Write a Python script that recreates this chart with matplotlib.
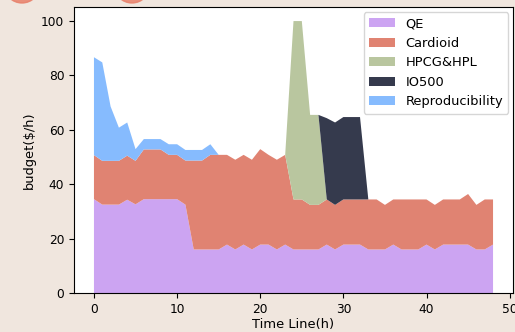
import matplotlib
matplotlib.use("Agg")
import matplotlib.pyplot as plt
from matplotlib.patches import Ellipse
import numpy as np

hours = np.arange(49)

qe = [34.5, 32.5, 32.5, 32.5, 34.3, 32.6, 34.5, 34.5, 34.5, 34.5,
      34.5, 32.5, 16, 16, 16, 16, 17.8, 16, 17.8, 16,
      17.8, 17.8, 16, 17.8, 16, 16, 16, 16, 17.8, 16,
      17.8, 17.8, 17.8, 16, 16, 16, 17.8, 16, 16, 16,
      17.8, 16, 17.8, 17.8, 17.8, 17.8, 16, 16, 17.8]
cardioid = [16.2, 16.1, 16.1, 16.1, 16.2, 16.0, 18.3, 18.3, 18.3, 16.3,
            16.3, 16.2, 32.7, 32.7, 34.8, 34.8, 33.0, 33.0, 33.0, 33.0,
            35.1, 33.0, 33.0, 33.0, 18.4, 18.4, 16.4, 16.4, 16.6, 16.4,
            16.6, 16.6, 16.6, 18.4, 18.4, 16.4, 16.6, 18.4, 18.4, 18.4,
            16.6, 16.4, 16.6, 16.6, 16.6, 18.6, 16.4, 18.4, 16.6]
hpcg = [0] * 24 + [65.6, 65.6, 33.1, 33.1] + [0] * 21
io500 = [0] * 28 + [29.9, 30.3, 30.3, 30.3, 30.3] + [0] * 16
repro = [36.0, 36.2, 20.0, 12.2, 12.2, 4.3, 3.8, 3.8, 3.8, 3.9,
         3.9, 3.9, 3.9, 3.9, 3.9] + [0] * 34

labels = ['QE', 'Cardioid', 'HPCG&HPL', 'IO500', 'Reproducibility']
colors = ['#CCA4F2', '#E08372', '#B9C69F', '#353A4D', '#86BBFE']

fig = plt.figure(figsize=(5.15, 3.32), dpi=100, facecolor='#F0E6DE')
ax = fig.add_axes([0.1437, 0.1175, 0.8524, 0.86])
ax.set_facecolor('white')

ax.stackplot(hours, qe, cardioid, hpcg, io500, repro, labels=labels, colors=colors)

ax.set_ylim(0, 105)
ax.set_xticks([0, 10, 20, 30, 40, 50])
ax.set_yticks([0, 20, 40, 60, 80, 100])
ax.tick_params(labelsize=8.8)
ax.set_xlabel('Time Line(h)', fontsize=9.4, labelpad=2)
ax.set_ylabel('budget($/h)', fontsize=9.4)
ax.legend(loc='upper right', fontsize=9.4, borderaxespad=0.35)

# decorative circles cut off at the top edge
for cx in [22, 132]:
    fig.patches.append(Ellipse((cx / 515, 1 + 15 / 332), 36 / 515, 36 / 332,
                               transform=fig.transFigure, color='#E8806A',
                               alpha=0.85))

fig.savefig('out.png', dpi=100, facecolor=fig.get_facecolor())
